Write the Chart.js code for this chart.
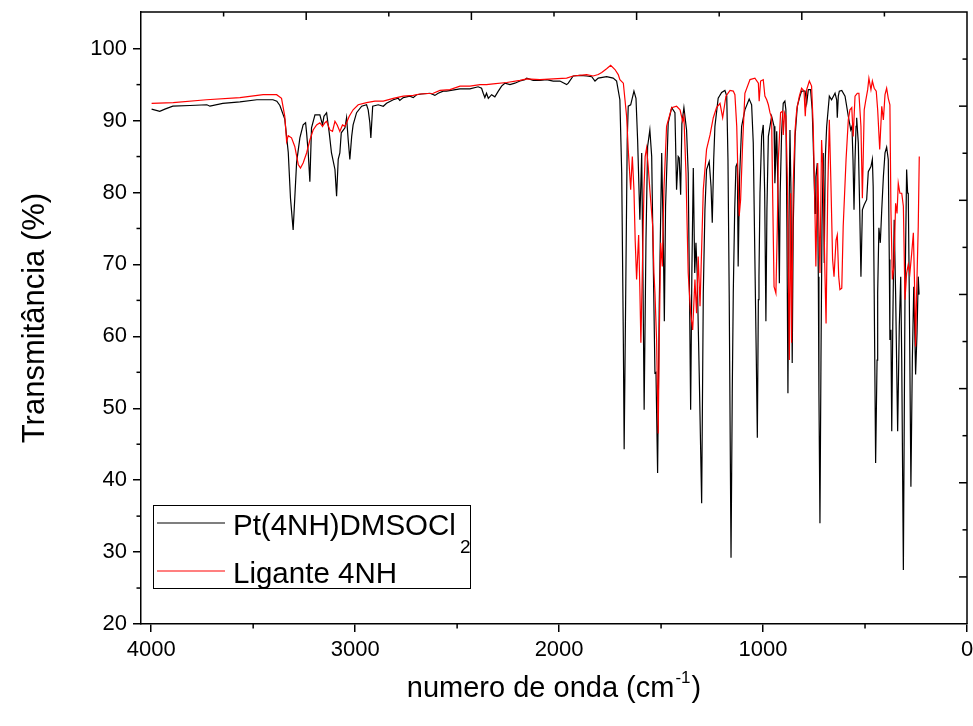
<!DOCTYPE html>
<html>
<head>
<meta charset="utf-8">
<script src="https://cdn.jsdelivr.net/npm/chart.js@4.4.1/dist/chart.umd.min.js"></script>
<style>
  html, body { margin: 0; padding: 0; background: #ffffff; }
  canvas { display: block; }
</style>
</head>
<body>
<canvas id="c" width="973" height="726"></canvas>
<script>
// ---- data ----
const pt4nhWavenumber = [3998,3958,3933,3894,3810,3727,3712,3649,3565,3482,3403,3384,3369,3345,3328,3317,3304,3287,3271,3255,3243,3238,3230,3222,3214,3197,3173,3160,3153,3140,3127,3116,3099,3091,3083,3075,3068,3050,3042,3034,3026,3017,3010,2993,2968,2944,2936,2928,2923,2914,2887,2862,2846,2813,2789,2781,2764,2732,2715,2699,2674,2633,2609,2593,2568,2552,2486,2437,2397,2380,2372,2364,2356,2347,2331,2315,2298,2282,2266,2241,2217,2192,2168,2159,2127,2094,2061,2029,1996,1963,1955,1931,1898,1865,1840,1824,1808,1767,1735,1718,1702,1693,1685,1681,1674,1666,1661,1649,1633,1623,1615,1604,1595,1589,1583,1574,1566,1555,1546,1541,1530,1525,1517,1509,1497,1489,1484,1478,1465,1448,1432,1424,1416,1411,1404,1398,1388,1375,1367,1360,1355,1349,1342,1335,1329,1323,1313,1301,1293,1285,1277,1264,1255,1249,1242,1236,1220,1203,1187,1178,1172,1166,1157,1151,1146,1139,1133,1126,1122,1115,1105,1089,1068,1056,1048,1040,1033,1028,1023,1020,1015,1007,999,992,986,981,974,958,946,942,933,925,920,916,909,901,893,888,883,878,873,868,863,857,852,843,832,819,811,794,786,778,767,759,754,745,741,734,729,726,721,716,711,705,700,695,688,675,664,647,639,636,631,626,614,598,582,570,564,559,554,549,544,541,533,526,520,513,504,492,484,471,464,460,455,448,441,438,432,425,418,410,402,394,386,381,378,373,369,364,357,350,340,332,325,320,312,304,296,291,288,283,275,268,261,255,252,245,239,235];
const pt4nhTransmittance = [91.6,91.3,91.6,92.0,92.1,92.2,92.0,92.4,92.6,92.9,92.9,92.7,92.1,90.2,85.6,79.2,74.8,84.2,87.6,89.4,89.7,88.3,85.5,81.5,89.0,90.8,90.8,89.4,90.6,91.1,88.3,85.5,83.2,79.5,84.6,85.5,88.3,89.0,90.4,87.3,84.6,87.8,89.4,91.1,92.0,92.2,91.5,89.7,87.6,92.0,92.2,92.0,92.4,92.9,93.1,92.8,93.2,93.4,93.2,93.6,93.7,93.8,93.5,93.8,94.1,94.1,94.4,94.4,94.7,94.5,93.8,93.2,93.8,93.1,93.6,93.3,94.1,94.8,95.2,95.0,95.2,95.5,95.7,95.9,95.6,95.6,95.7,95.5,95.5,95.0,95.2,96.2,96.3,96.2,96.1,95.5,95.9,96.1,95.9,95.5,92.9,82.7,59.5,44.3,64.2,87.3,92.0,92.2,94.1,93.1,87.3,76.2,85.5,68.8,49.8,73.4,86.4,88.7,85.0,75.3,54.9,55.0,41.0,64.2,85.5,73.4,62.1,78.1,89.7,91.8,91.1,80.4,85.0,84.8,79.7,89.6,91.8,88.7,82.7,64.2,49.8,68.8,83.4,68.8,73.0,68.8,54.9,36.8,66.0,77.6,83.2,84.3,80.8,75.8,84.6,89.2,93.1,93.9,94.2,93.4,84.6,66.0,29.2,52.1,66.0,77.6,83.6,84.1,69.7,82.2,89.2,91.5,93.0,92.2,86.9,70.7,56.7,45.9,65.1,68.3,79.9,87.8,89.4,79.9,62.1,77.6,87.8,90.6,89.2,81.3,88.5,77.6,67.4,79.9,88.3,92.4,92.7,91.5,75.3,52.1,75.3,88.7,79.9,56.3,75.3,87.8,92.0,93.4,94.1,94.1,92.4,94.3,94.3,91.5,86.9,77.1,82.2,84.1,68.3,52.1,34.0,56.7,75.3,85.5,70.2,84.6,89.2,93.4,92.9,93.8,92.9,90.4,93.4,94.1,94.2,93.4,90.6,88.7,89.2,84.6,77.6,84.6,89.2,90.4,86.9,77.6,68.3,77.6,78.3,79.0,82.9,83.6,84.6,80.8,66.0,42.4,56.7,66.0,75.1,73.0,77.6,82.2,85.5,86.3,84.6,70.7,59.5,60.9,46.8,61.4,76.2,66.0,46.8,61.4,68.3,56.7,27.5,66.0,83.2,79.9,79.9,66.0,39.1,56.7,66.9,59.1,54.7,60.5,68.3,65.8];

const ligandWavenumber = [3998,3892,3729,3565,3451,3385,3361,3345,3336,3328,3312,3296,3279,3268,3255,3238,3222,3206,3189,3173,3160,3148,3140,3124,3111,3099,3088,3075,3062,3050,3042,3029,3010,2985,2944,2903,2862,2813,2764,2715,2683,2617,2584,2535,2486,2437,2388,2356,2323,2257,2192,2159,2094,2029,1963,1931,1865,1833,1808,1791,1767,1747,1726,1710,1702,1685,1677,1669,1661,1649,1641,1633,1627,1620,1610,1604,1599,1592,1584,1578,1571,1563,1555,1541,1535,1530,1522,1514,1509,1502,1494,1486,1473,1448,1424,1407,1394,1388,1378,1367,1355,1345,1334,1326,1318,1309,1293,1277,1260,1244,1228,1211,1198,1182,1162,1146,1138,1129,1123,1117,1110,1100,1089,1064,1040,1023,1019,1012,999,991,982,974,966,958,953,946,937,930,925,914,904,901,894,888,881,871,865,860,852,843,835,822,811,799,793,786,773,762,754,747,741,732,726,721,713,705,698,691,683,675,668,659,652,642,636,629,623,614,607,593,582,574,565,558,549,538,530,520,513,509,504,497,487,481,471,464,455,445,438,428,418,410,402,394,386,378,373,366,358,350,343,337,329,320,312,304,296,288,280,271,263,258,252,247,239,234];
const ligandTransmittance = [92.4,92.5,92.9,93.2,93.6,93.6,93.1,90.6,87.1,87.9,87.6,86.4,83.9,83.4,84.1,85.5,87.3,88.7,89.4,89.7,89.2,89.7,89.9,88.7,88.5,89.9,89.4,88.5,89.4,89.2,89.7,90.6,91.5,92.2,92.5,92.7,92.7,93.1,93.4,93.5,93.7,93.8,94.2,94.3,94.8,94.8,95.0,95.0,95.1,95.3,95.6,95.8,95.7,95.8,95.9,96.2,96.4,96.2,96.4,96.7,97.2,97.7,97.1,96.4,95.7,95.2,92.9,90.6,86.0,80.4,85.0,80.4,73.4,67.9,74.1,66.5,59.1,68.8,80.4,85.0,86.2,83.6,80.4,75.3,68.8,66.0,59.5,46.5,59.5,73.0,69.7,80.4,89.2,91.8,92.0,91.5,89.9,90.6,82.7,68.8,63.2,60.9,67.9,63.2,71.1,64.2,80.4,86.0,88.0,90.4,91.8,92.4,90.4,93.4,94.2,94.1,93.6,89.2,82.2,76.7,79.0,86.9,93.8,95.7,95.9,95.2,92.7,95.5,95.7,93.4,92.9,92.2,91.1,90.4,79.9,66.9,66.0,75.3,84.6,91.1,91.3,88.0,91.1,90.6,82.2,56.7,79.9,59.1,81.3,88.7,91.5,93.4,94.5,94.1,90.6,94.3,95.5,94.8,89.2,79.9,69.7,84.1,75.3,68.8,87.3,82.2,70.7,61.8,79.9,90.1,82.2,70.7,68.3,73.4,74.1,68.3,66.5,66.7,75.3,84.6,90.1,91.5,91.8,87.8,93.4,93.8,93.8,89.2,79.2,84.6,91.5,92.7,94.3,95.9,94.3,95.5,94.5,94.1,91.5,86.0,92.0,90.1,93.6,94.5,93.1,92.2,77.6,67.9,69.7,78.5,77.1,81.3,79.9,79.9,78.1,65.1,68.8,70.0,68.8,71.6,74.4,68.3,58.6,66.0,75.3,85.0];

const seriesLabels = ['Pt(4NH)DMSOCl', 'Ligante 4NH'];
const seriesLabelSubscripts = ['2', ''];
const seriesColors = ['#000000', '#ff0000'];
const xMajorTicks = [4000, 3000, 2000, 1000, 0];
const xMinorTicks = [3500, 2500, 1500, 500];
const yMajorTicks = [20, 30, 40, 50, 60, 70, 80, 90, 100];
const yMinorTicks = [25, 35, 45, 55, 65, 75, 85, 95];
const xTitle = 'numero de onda (cm';
const xTitleSup = '-1';
const yTitle = 'Transmitância (%)';

const FONT = "'Liberation Sans', Arial, Helvetica, sans-serif";

function toPoints(xs, ys) { return xs.map((v, i) => ({ x: v, y: ys[i] })); }

const decorPlugin = {
  id: 'decor',
  afterDraw(chart) {
    const { ctx, chartArea: a, scales } = chart;
    const xs = scales.x, ys = scales.y;
    ctx.save();
    ctx.strokeStyle = '#000';
    ctx.lineWidth = 1.5;
    const seg = (x1, y1, x2, y2) => { ctx.beginPath(); ctx.moveTo(x1, y1); ctx.lineTo(x2, y2); ctx.stroke(); };
    // top & right frame
    ctx.beginPath();
    ctx.moveTo(a.left, a.top); ctx.lineTo(a.right, a.top); ctx.lineTo(a.right, a.bottom);
    ctx.stroke();
    // minor ticks on bottom / left
    xMinorTicks.forEach(v => { const p = xs.getPixelForValue(v); seg(p, a.bottom, p, a.bottom + 4.5); });
    yMinorTicks.forEach(v => { const p = ys.getPixelForValue(v); seg(a.left, p, a.left - 4.5, p); });
    // top axis ticks (inward)
    for (let k = 1; k < 10; k++) {
      const p = a.left + (a.right - a.left) * k / 10;
      seg(p, a.top, p, a.top + (k % 2 === 0 ? 8 : 4.5));
    }
    // right axis ticks (inward)
    for (let k = 1; k < 13; k++) {
      const p = a.top + (a.bottom - a.top) * k / 13;
      seg(a.right, p, a.right - (k % 2 === 0 ? 8 : 4.5), p);
    }
    // legend
    ctx.lineWidth = 1;
    ctx.strokeRect(153.5, 505.5, 317, 83);
    const rows = [523, 571];
    ctx.textBaseline = 'alphabetic';
    ctx.textAlign = 'left';
    seriesLabels.forEach((lab, i) => {
      ctx.strokeStyle = seriesColors[i];
      ctx.lineWidth = 1.2;
      seg(157, rows[i], 225, rows[i]);
      ctx.fillStyle = '#000';
      ctx.font = '29.5px ' + FONT;
      ctx.fillText(lab, 233, rows[i] + 12);
      if (seriesLabelSubscripts[i]) {
        const w = ctx.measureText(lab).width;
        ctx.font = '19px ' + FONT;
        ctx.fillText(seriesLabelSubscripts[i], 233 + w + 4, rows[i] + 30);
      }
    });
    // x title with superscript
    ctx.fillStyle = '#000';
    ctx.font = '29px ' + FONT;
    const w1 = ctx.measureText(xTitle).width;
    ctx.font = '17px ' + FONT;
    const w2 = ctx.measureText(xTitleSup).width;
    ctx.font = '29px ' + FONT;
    const w3 = ctx.measureText(')').width;
    const total = w1 + w2 + 2 + w3;
    const cx = (a.left + a.right) / 2;
    let sx = cx - total / 2;
    const base = 697;
    ctx.fillText(xTitle, sx, base);
    ctx.font = '17px ' + FONT;
    ctx.fillText(xTitleSup, sx + w1 + 1, base - 14);
    ctx.font = '29px ' + FONT;
    ctx.fillText(')', sx + w1 + w2 + 2, base);
    // y title
    ctx.save();
    ctx.translate(44, (a.top + a.bottom) / 2);
    ctx.rotate(-Math.PI / 2);
    ctx.textAlign = 'center';
    ctx.font = '31px ' + FONT;
    ctx.fillText(yTitle, 0, 0);
    ctx.restore();
    ctx.restore();
  }
};

new Chart(document.getElementById('c'), {
  type: 'line',
  data: {
    datasets: [
      { label: seriesLabels[0] + seriesLabelSubscripts[0], data: toPoints(pt4nhWavenumber, pt4nhTransmittance),
        borderColor: seriesColors[0], borderWidth: 1.2, pointRadius: 0, tension: 0, order: 1 },
      { label: seriesLabels[1], data: toPoints(ligandWavenumber, ligandTransmittance),
        borderColor: seriesColors[1], borderWidth: 1.2, pointRadius: 0, tension: 0, order: 0 }
    ]
  },
  options: {
    responsive: false,
    animation: false,
    devicePixelRatio: 1,
    events: [],
    layout: { padding: { left: 0, top: 12, right: 6, bottom: 0 } },
    plugins: { legend: { display: false }, tooltip: { enabled: false } },
    scales: {
      x: {
        type: 'linear', reverse: true, min: 0, max: 4050,
        afterBuildTicks: s => { s.ticks = xMajorTicks.map(v => ({ value: v })); },
        afterFit: s => { s.height = 102; s.paddingLeft = 0; s.paddingRight = 0; },
        ticks: { autoSkip: false, maxRotation: 0, padding: 5, color: '#000', font: { family: FONT, size: 22 },
                 callback: v => String(v) },
        grid: { display: true, drawOnChartArea: false, drawTicks: true, tickLength: 8, tickWidth: 1.5, tickColor: '#000', lineWidth: 1.5, color: '#000' },
        border: { display: true, color: '#000', width: 1.5 }
      },
      y: {
        type: 'linear', min: 20, max: 105.1,
        afterBuildTicks: s => { s.ticks = yMajorTicks.map(v => ({ value: v })); },
        afterFit: s => { s.width = 141; s.paddingTop = 0; s.paddingBottom = 0; },
        ticks: { autoSkip: false, padding: 6, color: '#000', font: { family: FONT, size: 22 },
                 callback: v => String(v) },
        grid: { display: true, drawOnChartArea: false, drawTicks: true, tickLength: 8, tickWidth: 1.5, tickColor: '#000', lineWidth: 1.5, color: '#000' },
        border: { display: true, color: '#000', width: 1.5 }
      }
    }
  },
  plugins: [decorPlugin]
});
</script>
</body>
</html>
